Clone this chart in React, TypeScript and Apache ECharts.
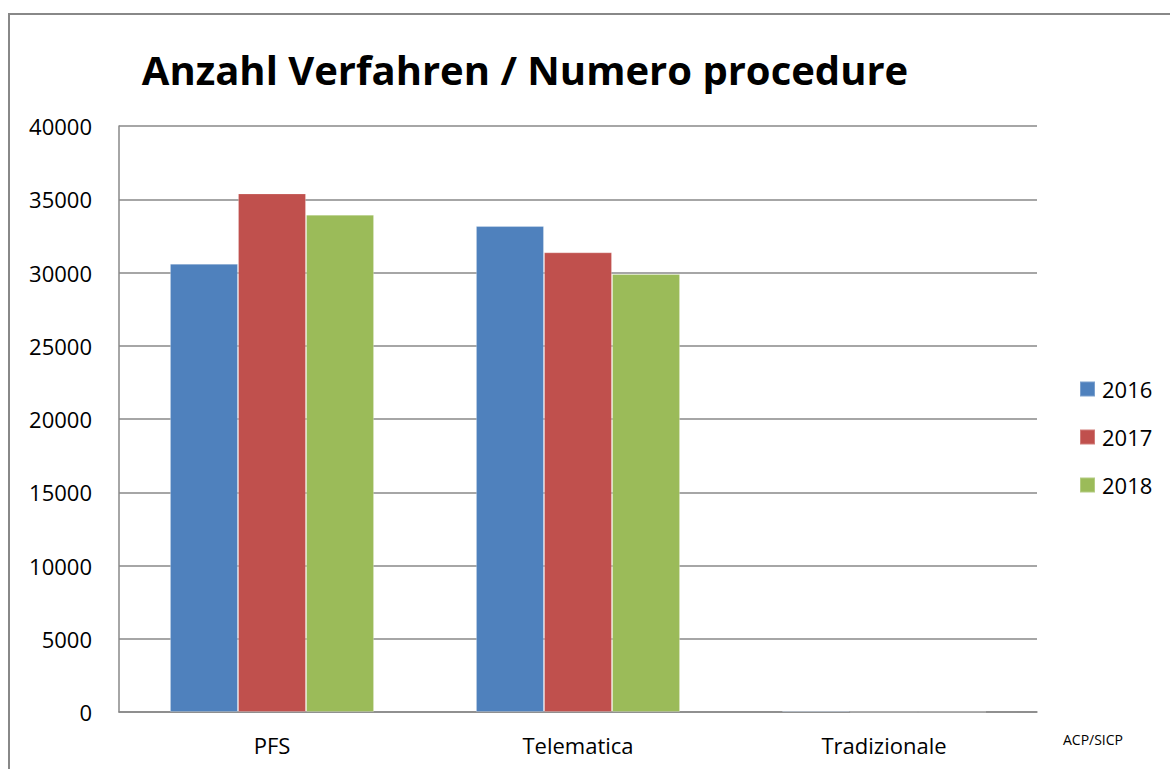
import React, { useEffect, useRef } from "react";
import * as echarts from "echarts";

const categories = ["PFS", "Telematica", "Tradizionale"];
const years = ["2016", "2017", "2018"];
const values2016 = [30600, 33170, 80];
const values2017 = [35400, 31380, 10];
const values2018 = [33950, 29900, 10];
const yTicks = [0, 5000, 10000, 15000, 20000, 25000, 30000, 35000, 40000];
const colors = ["#4F81BD", "#C0504D", "#9BBB59"];
const titleText = "Anzahl Verfahren / Numero procedure";
const sourceText = "ACP/SICP";

export default function App() {
  const ref = useRef<HTMLDivElement>(null);
  useEffect(() => {
    if (!ref.current) return;
    const chart = echarts.init(ref.current, undefined, { renderer: "svg" });
    const font = "'Open Sans', sans-serif";
    const seriesData = [values2016, values2017, values2018];
    chart.setOption({
      animation: false,
      backgroundColor: "#ffffff",
      textStyle: { fontFamily: font },
      title: {
        text: titleText,
        left: 520,
        top: 44,
        textAlign: "center",
        textStyle: { fontFamily: font, fontWeight: "bold", fontSize: 40, color: "#000" },
      },
      legend: {
        orient: "vertical",
        left: 1079,
        top: 378,
        padding: 0,
        itemWidth: 15,
        itemHeight: 15,
        itemGap: 26,
        icon: "rect",
        data: years,
        textStyle: { fontFamily: font, fontSize: 22, color: "#000", lineHeight: 22, padding: [0, 0, 0, 2] },
      },
      grid: { left: 119, top: 126, right: 133, bottom: 57, containLabel: false },
      xAxis: {
        type: "category",
        data: categories,
        axisLine: { show: true, lineStyle: { color: "#888", width: 1.5 } },
        axisTick: { show: false },
        axisLabel: { fontFamily: font, fontSize: 22, color: "#000", margin: 22 },
      },
      yAxis: {
        type: "value",
        min: yTicks[0],
        max: yTicks[yTicks.length - 1],
        interval: yTicks[1] - yTicks[0],
        axisLine: { show: true, lineStyle: { color: "#888", width: 1.5 } },
        axisTick: { show: false },
        splitLine: { show: true, lineStyle: { color: "#888", width: 1.5 } },
        axisLabel: {
          fontFamily: font,
          fontSize: 22,
          color: "#000",
          margin: 27,
          formatter: (v: number) => String(v),
        },
      },
      series: years.map((y, i) => ({
        name: y,
        type: "bar",
        data: seriesData[i],
        barGap: "0%",
        barCategoryGap: "33.3%",
        itemStyle: { color: colors[i], borderColor: "rgba(255,255,255,0.25)", borderWidth: 1 },
      })),
      graphic: [
        {
          type: "rect",
          shape: { x: 9, y: 14, width: 1300, height: 900 },
          style: { fill: "none", stroke: "#888", lineWidth: 2 },
          silent: true,
        },
        {
          type: "text",
          x: 1093,
          y: 739,
          style: {
            text: sourceText,
            fontFamily: font,
            fontSize: 14,
            fill: "#000",
            align: "center",
            verticalAlign: "middle",
          },
        },
      ],
    });
    return () => chart.dispose();
  }, []);
  return (
    <div
      ref={ref}
      style={{ position: "fixed", left: 0, top: 0, width: 1170, height: 769 }}
    />
  );
}
